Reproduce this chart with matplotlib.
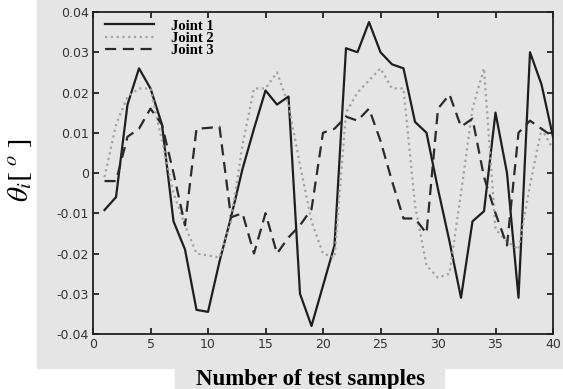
import matplotlib

matplotlib.use("Agg")
import matplotlib.pyplot as plt
from matplotlib.patches import Rectangle


# samples 1..40
samples = list(range(1, 41))

joint1 = [
    -0.0092, -0.006, 0.017, 0.026, 0.021, 0.012, -0.012, -0.019, -0.034, -0.0345,
    -0.022, -0.011, 0.001, 0.011, 0.0205, 0.017, 0.019, -0.030, -0.038, -0.028,
    -0.018, 0.031, 0.030, 0.0375, 0.030, 0.027, 0.026, 0.0127, 0.010, -0.004,
    -0.017, -0.031, -0.012, -0.0095, 0.015, 0.000, -0.031, 0.030, 0.022, 0.009,
]

joint2 = [
    -0.001, 0.012, 0.019, 0.021, 0.021, 0.008, -0.005, -0.013, -0.020, -0.0205,
    -0.021, -0.012, 0.007, 0.021, 0.021, 0.025, 0.017, 0.002, -0.012, -0.020,
    -0.021, 0.015, 0.020, 0.023, 0.026, 0.021, 0.021, -0.008, -0.023, -0.026,
    -0.025, -0.005, 0.016, 0.026, -0.014, -0.017, -0.019, -0.003, 0.011, 0.006,
]

joint3 = [
    -0.002, -0.002, 0.009, 0.011, 0.016, 0.012, 0.000, -0.013, 0.011, 0.0112,
    0.0115, -0.011, -0.010, -0.020, -0.010, -0.020, -0.016, -0.013, -0.009, 0.010,
    0.011, 0.014, 0.013, 0.016, 0.008, -0.002, -0.0113, -0.0113, -0.015, 0.016,
    0.0195, 0.0115, 0.0135, -0.001, -0.010, -0.018, 0.010, 0.013, 0.011, 0.009,
]

series_labels = ["Joint 1", "Joint 2", "Joint 3"]

x_ticks = [0, 5, 10, 15, 20, 25, 30, 35, 40]
y_ticks = [-0.04, -0.03, -0.02, -0.01, 0, 0.01, 0.02, 0.03, 0.04]
y_tick_labels = ["-0.04", "-0.03", "-0.02", "-0.01", "0",
                 "0.01", "0.02", "0.03", "0.04"]

BG = "#e5e5e5"
W, H = 563, 389


def main():
    plt.rcParams["mathtext.fontset"] = "stix"

    fig = plt.figure(figsize=(W / 100, H / 100), dpi=100, facecolor="white")

    # grey scanned page area behind the plot
    fig.patches.append(Rectangle((37 / W, 21 / H), 1 - 37 / W, 1 - 21 / H,
                                 transform=fig.transFigure, color=BG, zorder=-2))
    fig.patches.append(Rectangle((175 / W, 0), (444 - 175) / W, 21 / H,
                                 transform=fig.transFigure, color=BG, zorder=-2))

    ax = fig.add_axes([93 / W, 1 - 334 / H, (553 - 93) / W, (334 - 12) / H])
    ax.set_facecolor(BG)

    ax.plot(samples, joint1, color="#1e1e1e", lw=1.6, ls="-",
            label=series_labels[0])
    ax.plot(samples, joint2, color="#a2a2a2", lw=1.6, ls=(0, (1, 1.6)),
            label=series_labels[1])
    ax.plot(samples, joint3, color="#2a2a2a", lw=1.6, ls=(0, (5, 3)),
            label=series_labels[2])

    ax.set_xlim(0, 40)
    ax.set_ylim(-0.04, 0.04)
    ax.set_xticks(x_ticks)
    ax.set_yticks(y_ticks)
    ax.set_yticklabels(y_tick_labels)

    ax.tick_params(direction="in", length=4, width=1.1, top=True, right=True,
                   labelsize=9, labelcolor="#333333", pad=3)
    for spine in ax.spines.values():
        spine.set_linewidth(1.3)
        spine.set_color("#202020")

    ax.legend(loc="upper left", bbox_to_anchor=(0.01, 1.0), frameon=False,
              prop={"family": "Liberation Serif", "weight": "bold", "size": 10.5},
              handlelength=3.4, handletextpad=1.1, labelspacing=-0.05,
              borderaxespad=0.2, borderpad=0.3)

    fig.text(311 / W, 1 - 379 / H, "Number of test samples",
             family="Liberation Serif", weight="bold", fontsize=16.5,
             ha="center", va="center")

    fig.text(20 / W, 1 - 170 / H, r"$\theta_i\left[\;^{o}\;\right]$", fontsize=21,
             rotation=90, ha="center", va="center")

    fig.savefig("out.png", dpi=100, facecolor="white")
    plt.close(fig)


if __name__ == "__main__":
    main()
